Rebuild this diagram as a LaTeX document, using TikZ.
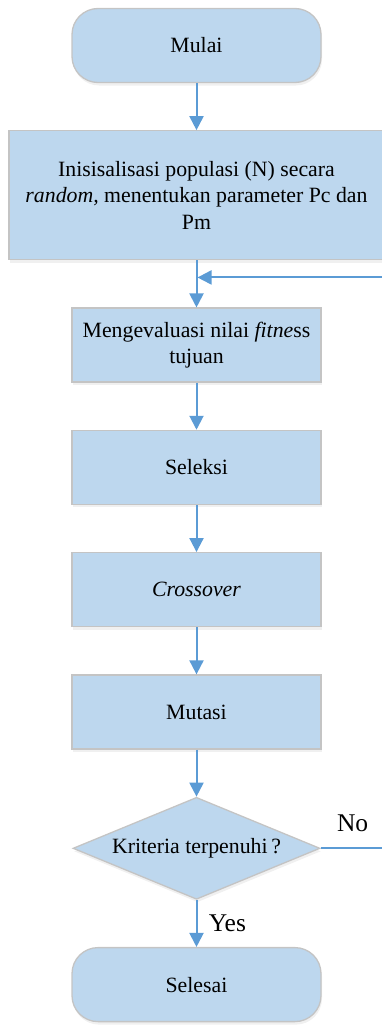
\documentclass[tikz,border=0pt]{standalone}
\usepackage{fontspec}
\setmainfont{Liberation Serif}
\usepackage{xcolor}
\usetikzlibrary{positioning,shapes.geometric,arrows.meta,shadows}
\definecolor{boxblue}{HTML}{BDD7EE}
\definecolor{linkblue}{HTML}{5B9BD5}
\definecolor{rimgray}{HTML}{C4C4C4}
\newcommand{\boxfont}{\fontsize{21.8pt}{26.7pt}\selectfont}
\newcommand{\tagfont}{\fontsize{25.5pt}{30pt}\selectfont}
\tikzset{
  block/.style={draw=rimgray, line width=1.3pt, fill=boxblue, align=center,
    minimum width=249pt, minimum height=74pt, font=\boxfont,
    drop shadow={shadow xshift=1pt, shadow yshift=-3pt, opacity=0.12}},
  term/.style={block, rounded corners=26pt},
  decision/.style={block, diamond, aspect=2.4, inner sep=0pt,
    minimum width=247pt, minimum height=102pt},
  flow/.style={->, draw=linkblue, line width=2pt},
  tag/.style={font=\tagfont, text=black}
}

\begin{document}
\begin{tikzpicture}[x=1pt, y=1pt, node distance=47pt,
    >={Triangle[length=14pt, width=14pt]}]
  \useasboundingbox (0,0) rectangle (382,-1025);
  % ---------- the steps, top to bottom ----------
  \node[term] (mulai) at (196.5,-45.5) {Mulai};
  \node[block, minimum width=375pt, minimum height=129pt, below=of mulai] (init)
    {Inisisalisasi populasi (N) secara\\
     \textit{random,} menentukan parameter Pc dan\\ Pm};
  \node[block, below=of init] (eval) {Mengevaluasi nilai \textit{fitne}ss\\ tujuan};
  \node[block, below=of eval] (seleksi) {Seleksi};
  \node[block, below=of seleksi] (cross) {\textit{Crossover}};
  \node[block, below=of cross] (mutasi) {Mutasi};
  \node[decision, below=of mutasi] (kriteria) {Kriteria terpenuhi\,?};
  \node[term, below=of kriteria] (selesai) {Selesai};
  % where the loop comes back in
  \coordinate[below=17pt of init] (merge);
  % ---------- connectors ----------
  \foreach \a/\b in {mulai/init, init/eval, eval/seleksi, seleksi/cross,
      cross/mutasi, mutasi/kriteria}
    \draw[flow] (\a) -- (\b);
  \draw[flow] (kriteria) -- node[tag, right=8pt] {Yes} (selesai);
  \draw[flow, shorten >=1pt] (kriteria.east) -- node[tag, above=12pt] {No} ++(64,0)
    |- (merge);
\end{tikzpicture}
\end{document}
